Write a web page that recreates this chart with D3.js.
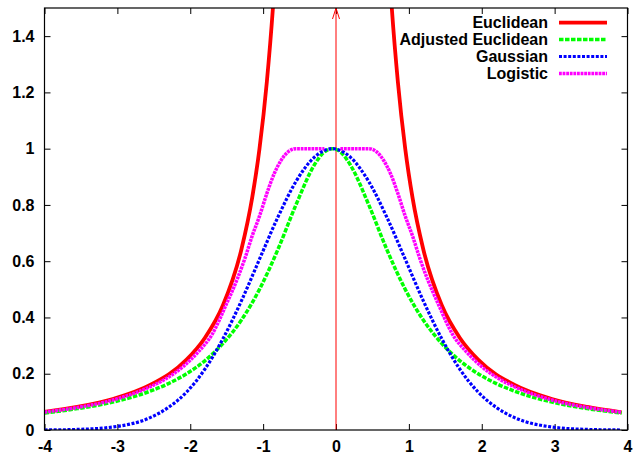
<!DOCTYPE html>
<html lang="en">
<head>
    <meta charset="UTF-8">
    <title>Distance weighting functions</title>
    <script src="https://d3js.org/d3.v7.min.js"></script>
    <style>
        body {
            margin: 0;
            background: #fff;
        }
        text {
            font-family: "Liberation Sans", Arial, sans-serif;
            font-size: 16px;
            font-weight: bold;
            fill: #000;
        }
    </style>
</head>
<body>
    <div id="chart"></div>
    <script>
    // values
    const xTicks = [-4, -3, -2, -1, 0, 1, 2, 3, 4];
    const yTicks = [0, 0.2, 0.4, 0.6, 0.8, 1, 1.2, 1.4];
    const seriesNames = ["Euclidean", "Adjusted Euclidean", "Gaussian", "Logistic"];

    // Euclidean, two branches split by a null
    const euclidX = [-4.0, -3.55, -3.05, -2.55, -2.05, -1.8, -1.55, -1.3, -1.15, -1.05, -0.95, -0.85, -0.75,
                     null,
                     0.65, 0.75, 0.85, 0.95, 1.05, 1.2, 1.45, 1.7, 1.95, 2.45, 2.95, 3.45, 3.92];
    const euclidY = [0.064, 0.082, 0.111, 0.16, 0.25, 0.327, 0.444, 0.64, 0.826, 1.0, 1.235, 1.56, 2.04,
                     null,
                     2.04, 1.56, 1.235, 1.0, 0.826, 0.64, 0.444, 0.327, 0.25, 0.16, 0.111, 0.082, 0.063];

    // Adjusted Euclidean and Gaussian share the same sample points
    const bellX = [-4.0, -3.55, -3.05, -2.55, -2.3, -2.05, -1.8, -1.55, -1.3, -1.05, -0.8, -0.55, -0.3, -0.175,
                   -0.05, 0.075, 0.2, 0.45, 0.7, 0.95, 1.2, 1.45, 1.7, 1.95, 2.2, 2.45, 2.95, 3.45, 3.92];
    const adjustedY = [0.060, 0.076, 0.100, 0.138, 0.165, 0.200, 0.246, 0.308, 0.390, 0.500, 0.640, 0.800, 0.941, 0.985,
                       1.000, 0.985, 0.941, 0.800, 0.640, 0.500, 0.390, 0.308, 0.246, 0.200, 0.165, 0.138, 0.100, 0.076, 0.060];
    const gaussianY = [0.000, 0.002, 0.011, 0.044, 0.080, 0.135, 0.216, 0.325, 0.458, 0.607, 0.755, 0.883, 0.969, 0.992,
                       1.000, 0.992, 0.969, 0.883, 0.755, 0.607, 0.458, 0.325, 0.216, 0.135, 0.080, 0.044, 0.011, 0.002, 0.000];

    // Logistic, with a small gap around zero
    const logisticX = [-4.0, -3.6, -3.1, -2.6, -2.35, -2.1, -1.9, -1.7, -1.5, -1.35, -1.25, -1.15, -1.05, -0.95,
                       -0.85, -0.75, -0.65, -0.55, -0.35, -0.16,
                       null,
                       0.06, 0.25, 0.45, 0.55, 0.65, 0.75, 0.85, 0.95, 1.05, 1.15, 1.25, 1.4, 1.6, 1.8, 2.0,
                       2.25, 2.5, 3.0, 3.5, 3.92];
    const logisticY = [0.064, 0.078, 0.104, 0.148, 0.18, 0.225, 0.275, 0.34, 0.45, 0.54, 0.61, 0.69, 0.76, 0.84,
                       0.91, 0.96, 0.99, 1, 1, 1,
                       null,
                       1, 1, 1, 0.99, 0.96, 0.91, 0.84, 0.76, 0.69, 0.61, 0.54, 0.45, 0.34, 0.275, 0.225,
                       0.18, 0.148, 0.104, 0.078, 0.063];

    const W = 633, H = 457;
    const margin = {top: 8, right: 5.5, bottom: 27, left: 44.5};
    const width = W - margin.left - margin.right;
    const height = H - margin.top - margin.bottom;

    const svg = d3.select("#chart").append("svg")
        .attr("width", W)
        .attr("height", H);

    const g = svg.append("g")
        .attr("transform", `translate(${margin.left},${margin.top})`);

    const x = d3.scaleLinear().domain([-4, 4]).range([0, width]);
    const y = d3.scaleLinear().domain([0, 1.5]).range([height, 0]);

    svg.append("defs").append("clipPath").attr("id", "clip")
        .append("rect").attr("width", width).attr("height", height);

    // plain hyphen for negatives, like the original
    const fmt = d => String(+d.toFixed(1));

    // ticks on all four sides, pointing inward
    const tickLen = 6;
    const axisStyle = sel => {
        sel.select(".domain").remove();
        sel.selectAll("line").attr("stroke", "#000").attr("stroke-width", 1);
    };
    g.append("g").attr("transform", `translate(0,${height})`)
        .call(d3.axisBottom(x).tickValues(xTicks).tickSize(-tickLen).tickPadding(11).tickFormat(fmt))
        .call(axisStyle);
    g.append("g")
        .call(d3.axisTop(x).tickValues(xTicks).tickSize(-tickLen).tickFormat(""))
        .call(axisStyle);
    g.append("g")
        .call(d3.axisLeft(y).tickValues(yTicks).tickSize(-tickLen).tickPadding(10).tickFormat(fmt))
        .call(axisStyle);
    g.append("g").attr("transform", `translate(${width},0)`)
        .call(d3.axisRight(y).tickValues(yTicks).tickSize(-tickLen).tickFormat(""))
        .call(axisStyle);

    g.selectAll(".tick text")
        .attr("font-size", null)
        .attr("font-family", null)
        .attr("fill", "#000");

    // zero marker arrow
    const x0 = x(0);
    g.append("line")
        .attr("x1", x0).attr("x2", x0)
        .attr("y1", y(0)).attr("y2", y(1.5))
        .attr("stroke", "#ff0000").attr("stroke-width", 1);
    g.append("path")
        .attr("d", `M${x0 - 3.5},${y(1.5) + 11}L${x0},${y(1.5)}L${x0 + 3.5},${y(1.5) + 11}`)
        .attr("fill", "none").attr("stroke", "#ff0000").attr("stroke-width", 1);

    const styles = [
        {color: "#ff0000", width: 3.8, dash: null},
        {color: "#00ff00", width: 3.5, dash: "4.5,1.5"},
        {color: "#0000ff", width: 3.2, dash: "3,1.6"},
        {color: "#ff00ff", width: 3.5, dash: "2.8,0.8"}
    ];

    const toPoints = (xs, ys) => xs.map((v, i) => ({x: v, y: ys[i]}));
    const series = [
        toPoints(euclidX, euclidY),
        toPoints(bellX, adjustedY),
        toPoints(bellX, gaussianY),
        toPoints(logisticX, logisticY)
    ];

    const line = d3.line()
        .defined(d => d.x != null && d.y != null)
        .x(d => x(d.x))
        .y(d => y(d.y))
        .curve(d3.curveMonotoneX);

    const plot = g.append("g").attr("clip-path", "url(#clip)");
    series.forEach((pts, i) => {
        plot.append("path")
            .datum(pts)
            .attr("fill", "none")
            .attr("stroke", styles[i].color)
            .attr("stroke-width", styles[i].width)
            .attr("stroke-dasharray", styles[i].dash)
            .attr("d", line);
    });

    // frame
    g.append("rect")
        .attr("width", width).attr("height", height)
        .attr("fill", "none").attr("stroke", "#000").attr("stroke-width", 1.2);

    // legend
    const legend = g.append("g").attr("transform", `translate(${548 - margin.left},${22.7 - margin.top})`);
    seriesNames.forEach((name, i) => {
        const row = legend.append("g").attr("transform", `translate(0,${i * 16.9})`);
        row.append("text")
            .attr("text-anchor", "end")
            .attr("dy", "0.36em")
            .text(name);
        row.append("line")
            .attr("x1", 11).attr("x2", 59)
            .attr("stroke", styles[i].color)
            .attr("stroke-width", styles[i].width)
            .attr("stroke-dasharray", styles[i].dash);
    });
    </script>
</body>
</html>
